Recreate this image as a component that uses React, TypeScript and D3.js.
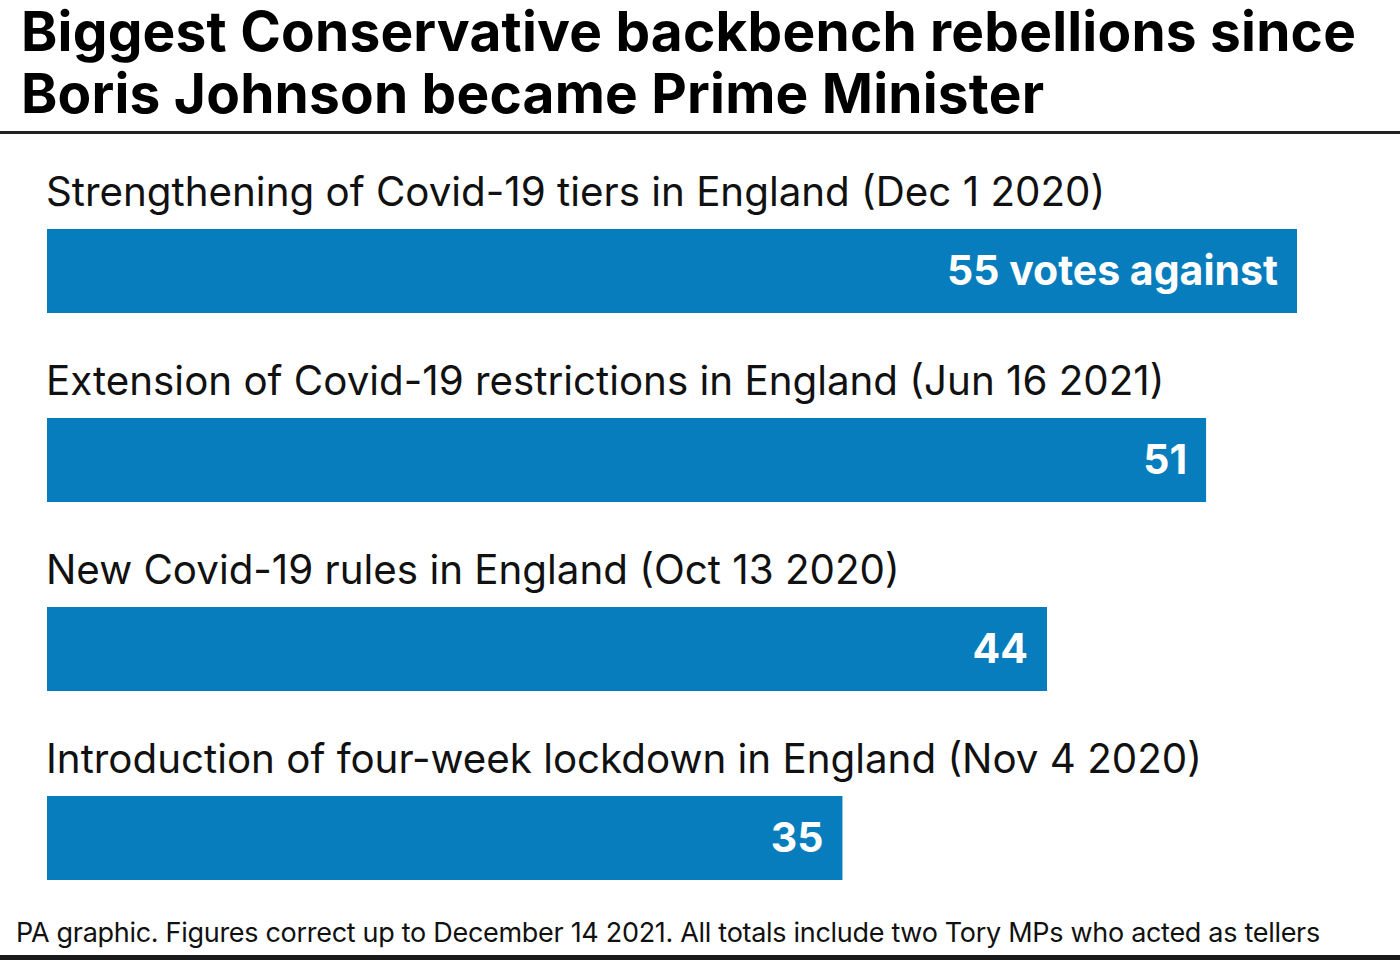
import { useMemo } from "react";
import * as d3 from "d3";

const categories = [
  "Strengthening of Covid-19 tiers in England (Dec 1 2020)",
  "Extension of Covid-19 restrictions in England (Jun 16 2021)",
  "New Covid-19 rules in England (Oct 13 2020)",
  "Introduction of four-week lockdown in England (Nov 4 2020)",
];
const votes = [55, 51, 44, 35];
const valueSuffix = ["votes against", "", "", ""];

const titleLines = [
  "Biggest Conservative backbench rebellions since",
  "Boris Johnson became Prime Minister",
];
const footnote =
  "PA graphic. Figures correct up to December 14 2021. All totals include two Tory MPs who acted as tellers";

const W = 1400;
const H = 960;
const BAR = "#077DBD";
const FONT = "Inter, 'Liberation Sans', Arial, sans-serif";

export default function App() {
  const rows = useMemo(
    () => categories.map((c, i) => ({ label: c, value: votes[i], suffix: valueSuffix[i] })),
    []
  );

  const x = d3.scaleLinear().domain([0, 55]).range([47, 1297]);
  const y = d3
    .scaleBand<string>()
    .domain(categories)
    .range([145, 145 + 189 * categories.length]);
  const barH = 84;

  return (
    <svg
      width={W}
      height={H}
      viewBox={`0 0 ${W} ${H}`}
      style={{ position: "fixed", left: 0, top: 0, background: "#fff" }}
      fontFamily={FONT}
    >
      <rect width={W} height={H} fill="#fff" />
      {titleLines.map((t, i) => (
        <text key={i} x={21} y={51 + i * 62} fontSize={55} fontWeight="bold" fill="#000" letterSpacing={0.2}>
          {t}
        </text>
      ))}
      <rect x={0} y={131} width={W} height={3} fill="#222" />

      {rows.map((d) => {
        const top = (y(d.label) ?? 0) + barH;
        return (
          <g key={d.label}>
            <text x={46} y={(y(d.label) ?? 0) + 61} fontSize={40.3} fill="#111">
              {d.label}
            </text>
            <rect x={x(0)} y={top} width={x(d.value) - x(0)} height={barH} fill={BAR} />
            <text
              x={x(d.value) - 19}
              y={top + 56}
              fontSize={41}
              fontWeight="bold"
              fill="#fff"
              textAnchor="end"
            >
              {d.suffix ? `${d.value} ${d.suffix}` : d.value}
            </text>
          </g>
        );
      })}

      <text x={16} y={942} fontSize={27} fill="#111" letterSpacing={-0.3}>
        {footnote}
      </text>
      <rect x={0} y={955} width={W} height={5} fill="#1a1a1a" />
    </svg>
  );
}
